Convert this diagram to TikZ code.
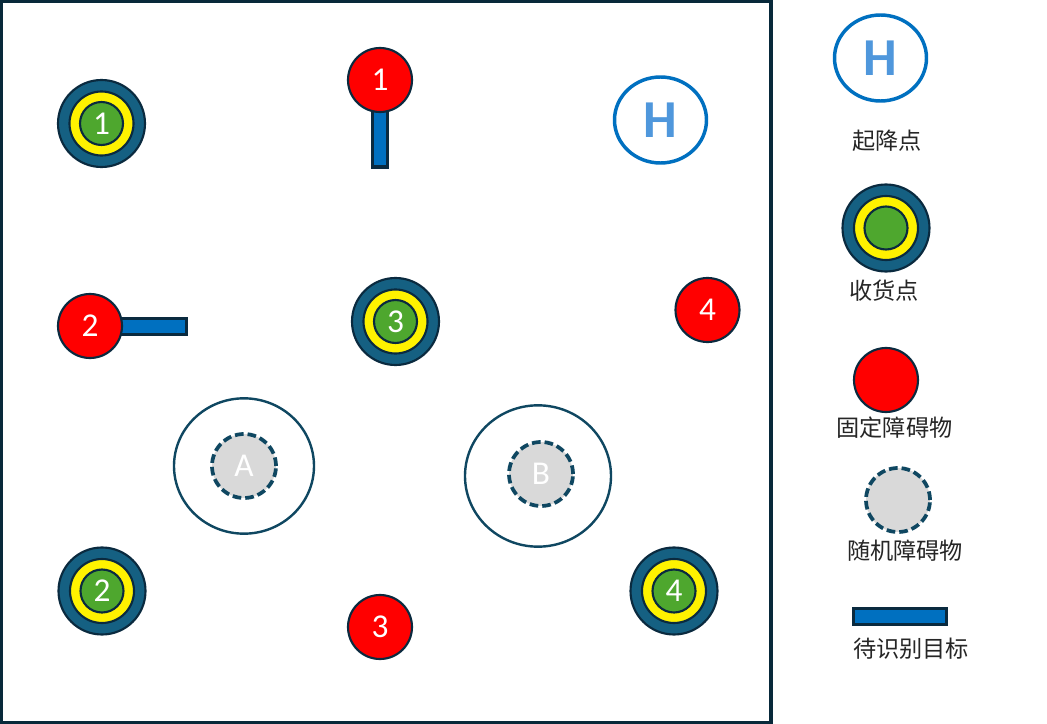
\documentclass[tikz,border=0pt]{standalone}
\usepackage{fontspec}
\setmainfont{Carlito}
\newfontfamily\cjk{Noto Sans CJK SC}
\usetikzlibrary{shapes.geometric}
\definecolor{navy}{HTML}{0A2A3F}
\definecolor{teal}{HTML}{156082}
\definecolor{darkteal}{HTML}{0F4761}
\definecolor{framecol}{HTML}{08293A}
\definecolor{barblue}{HTML}{0070C0}
\definecolor{hblue}{HTML}{4F97DC}
\definecolor{tgreen}{HTML}{4EA72E}
\definecolor{lgray}{HTML}{D9D9D9}
\tikzset{
  x=0.75pt,y=-0.75pt,
  disc/.style={circle,inner sep=0pt,outer sep=0pt,minimum size=#1*1.5pt},
  frame/.style={draw=framecol,line width=2.5pt,fill=white},
  outerring/.style={disc=43.5,draw=navy,line width=1.6pt,fill=teal},
  midring/.style={disc=32,draw=navy,line width=1.6pt,fill=yellow},
  core/.style={disc=21.5,draw=navy,line width=1.6pt,fill=tgreen,text=white,font=\fontsize{25}{28}\selectfont},
  redobs/.style={disc=32,draw=navy,line width=1.6pt,fill=red,text=white,font=\fontsize{25}{28}\selectfont},
  randobs/.style={disc=32,draw=darkteal,line width=2.8pt,dash pattern=on 6.5pt off 3pt,fill=lgray,text=white,font=\fontsize{25}{28}\selectfont},
  zone/.style={ellipse,inner sep=0pt,outer sep=0pt,draw=darkteal,line width=1.8pt,fill=white},
  pad/.style={ellipse,inner sep=0pt,outer sep=0pt,minimum width=69pt,minimum height=64.5pt,draw=barblue,line width=2.6pt,fill=white,text=hblue,font=\bfseries\fontsize{40}{44}\selectfont},
  bar/.style={rectangle,inner sep=0pt,outer sep=0pt,draw=navy,line width=2.4pt,fill=barblue},
  legend/.style={font=\cjk\fontsize{17.4}{20}\selectfont,text=black!85,inner sep=0pt},
}
\newcommand{\target}[3]{%
  \node[outerring] (#1o) at #2 {};
  \node[midring] (#1m) at #2 {};
  \node[core] (#1c) at #2 {#3};
}
\begin{document}
\begin{tikzpicture}
\useasboundingbox (0,0) rectangle (1047,724);
\fill[white] (0,0) rectangle (1047,724);
\node[frame,rectangle,inner sep=0pt,outer sep=0pt,minimum width=577.5pt,minimum height=541.5pt] (field) at (386,362) {};
% bars under the red discs
\node[bar,minimum width=11.5pt,minimum height=45pt] (bar1) at (380,137) {};
\node[bar,minimum width=52pt,minimum height=12pt] (bar2) at (152,326.5) {};
% targets
\target{tone}{(101.5,123.5)}{1}
\target{ttwo}{(102,591)}{2}
\target{tthree}{(395.5,321.5)}{3}
\target{tfour}{(674,591)}{4}
% fixed obstacles
\node[redobs] (rone) at (380,80) {1};
\node[redobs] (rtwo) at (90,326) {2};
\node[redobs] (rthree) at (380,627) {3};
\node[redobs] (rfour) at (707.5,310) {4};
% zones and random obstacles
\node[zone,minimum width=105pt,minimum height=101.5pt] (za) at (244,466) {};
\node[zone,minimum width=109.5pt,minimum height=106pt] (zb) at (538,476) {};
\node[randobs] (ra) at (244,466) {A};
\node[randobs] (rb) at (541,474) {B};
% landing pad
\node[pad] (hmain) at (660.5,120) {H};
% legend
\node[pad] (hleg) at (880.5,58) {H};
\node[legend] (l1) at (887,141) {起降点};
\target{tleg}{(886,228)}{}
\node[legend] (l2) at (884,291) {收货点};
\node[redobs] (rleg) at (886,380) {};
\node[legend] (l3) at (894.5,428) {固定障碍物};
\node[randobs] (qleg) at (898,500) {};
\node[legend] (l4) at (905,551) {随机障碍物};
\node[bar,minimum width=70pt,minimum height=11.5pt] (bleg) at (900,616.5) {};
\node[legend] (l5) at (911,649) {待识别目标};
\end{tikzpicture}
\end{document}
